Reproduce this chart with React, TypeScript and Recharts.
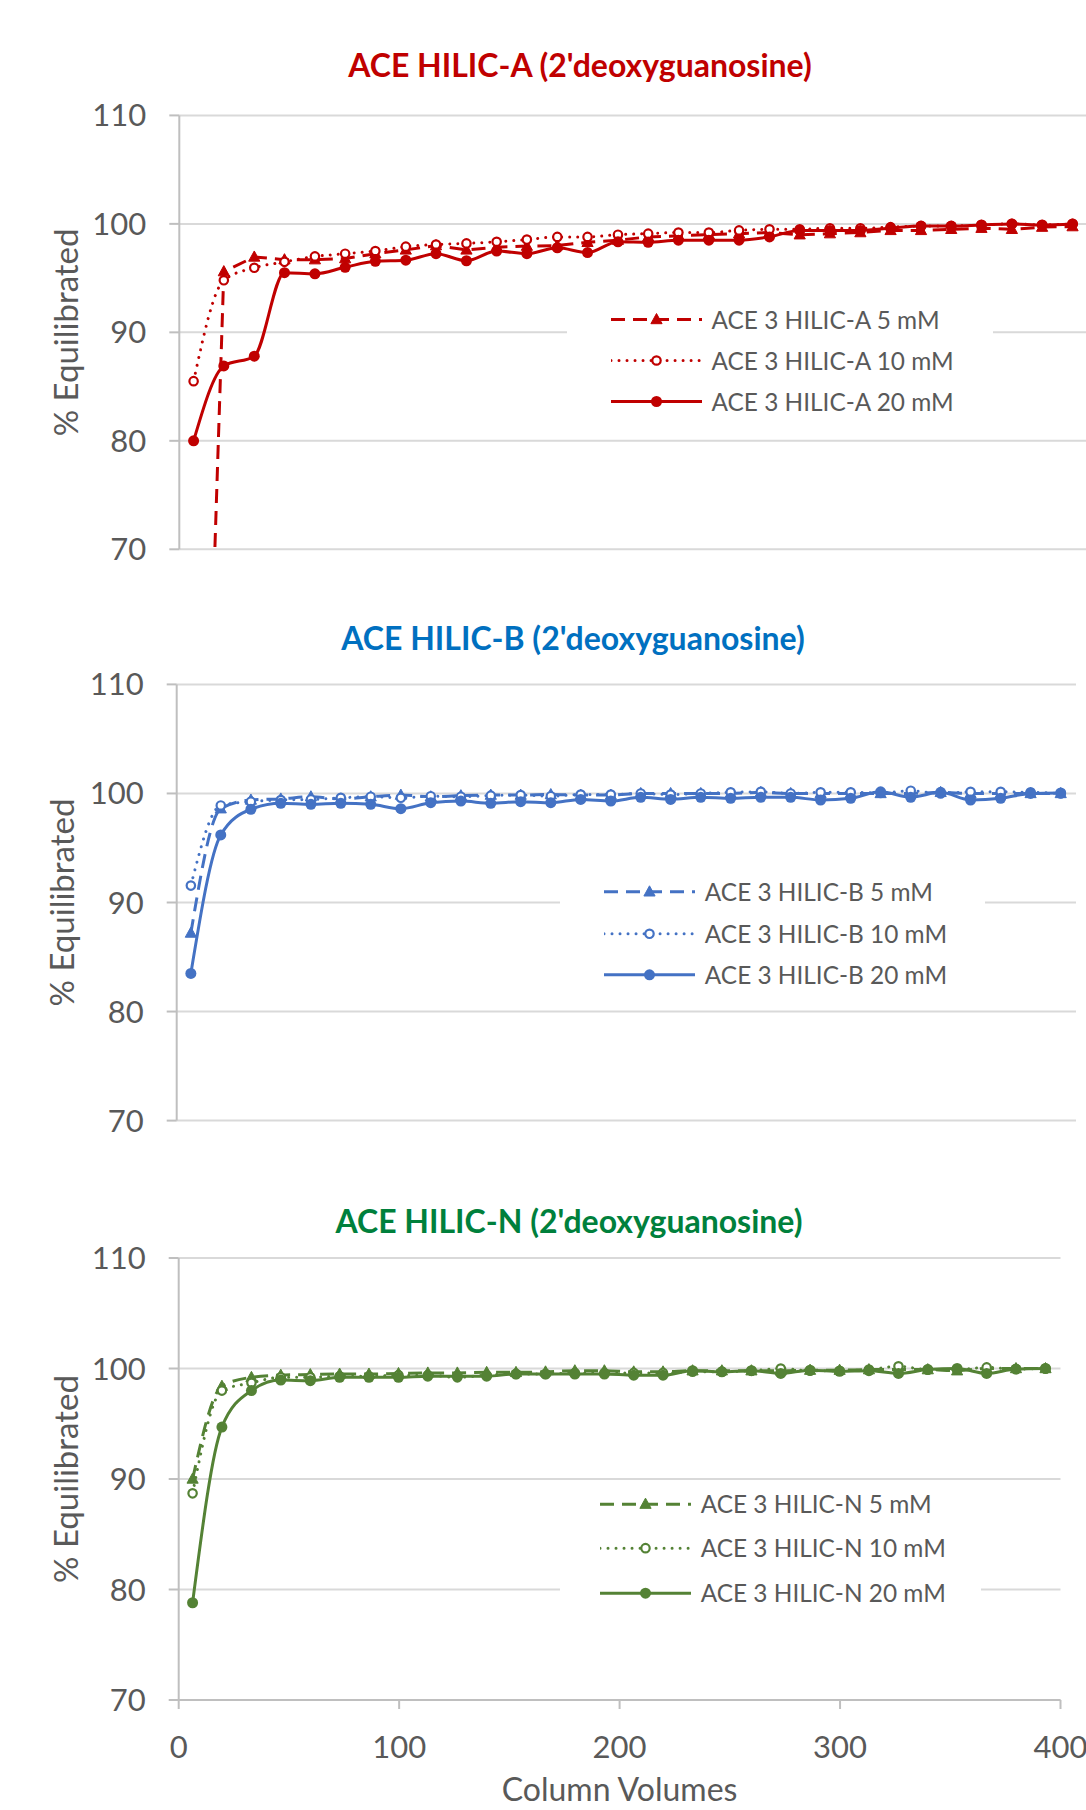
import React from 'react';
import { LineChart, Line, XAxis, YAxis, CartesianGrid } from 'recharts';

// ---------- data ----------
const columnVolumes = [6.3, 19.6, 33.0, 46.3, 59.7, 73.0, 86.3, 99.7, 113.0, 126.4, 139.7, 153.0, 166.4, 179.7, 193.1, 206.4, 219.7, 233.1, 246.4, 259.8, 273.1, 286.4, 299.8, 313.1, 326.5, 339.8, 353.1, 366.5, 379.8, 393.2];

const yTicks = [70, 80, 90, 100, 110];
const xTicks = [0, 100, 200, 300, 400];

const titleA = "ACE HILIC-A (2'deoxyguanosine)";
const titleB = "ACE HILIC-B (2'deoxyguanosine)";
const titleN = "ACE HILIC-N (2'deoxyguanosine)";
const yAxisTitle = '% Equilibrated';
const xAxisTitle = 'Column Volumes';

const namesA = ['ACE 3 HILIC-A 5 mM', 'ACE 3 HILIC-A 10 mM', 'ACE 3 HILIC-A 20 mM'];
const namesB = ['ACE 3 HILIC-B 5 mM', 'ACE 3 HILIC-B 10 mM', 'ACE 3 HILIC-B 20 mM'];
const namesN = ['ACE 3 HILIC-N 5 mM', 'ACE 3 HILIC-N 10 mM', 'ACE 3 HILIC-N 20 mM'];

const hilicA5 = [9.4, 95.6, 96.95, 96.7, 96.7, 96.8, 97.25, 97.6, 98.0, 97.6, 97.85, 97.95, 98.0, 98.3, 98.5, 98.8, 98.9, 99.0, 99.1, 99.2, 99.0, 99.1, 99.2, 99.4, 99.4, 99.5, 99.6, 99.5, 99.7, 99.75];
const hilicA10 = [85.5, 94.8, 95.95, 96.5, 97.0, 97.25, 97.5, 97.9, 98.1, 98.2, 98.35, 98.55, 98.8, 98.8, 99.0, 99.1, 99.2, 99.2, 99.4, 99.5, 99.5, 99.6, 99.6, 99.7, 99.8, 99.8, 99.9, 100.0, 99.9, 100.0];
const hilicA20 = [80.0, 86.9, 87.8, 95.5, 95.4, 96.0, 96.55, 96.65, 97.25, 96.6, 97.5, 97.25, 97.8, 97.35, 98.35, 98.3, 98.5, 98.5, 98.5, 98.8, 99.4, 99.4, 99.4, 99.6, 99.8, 99.8, 99.9, 100.0, 99.9, 100.0];

const hilicB5 = [87.2, 98.6, 99.4, 99.5, 99.7, 99.5, 99.7, 99.85, 99.7, 99.8, 99.85, 99.85, 99.9, 99.85, 99.85, 100.0, 100.0, 100.0, 100.0, 100.1, 100.0, 100.0, 100.0, 100.0, 100.0, 100.1, 100.0, 100.0, 100.0, 100.0];
const hilicB10 = [91.55, 98.9, 99.25, 99.4, 99.45, 99.6, 99.7, 99.6, 99.75, 99.7, 99.8, 99.85, 99.75, 99.9, 99.9, 100.0, 99.9, 100.0, 100.1, 100.15, 100.0, 100.1, 100.1, 100.05, 100.25, 100.0, 100.15, 100.15, 100.1, 100.0];
const hilicB20 = [83.5, 96.2, 98.55, 99.1, 99.0, 99.1, 99.0, 98.6, 99.15, 99.3, 99.1, 99.25, 99.15, 99.45, 99.3, 99.65, 99.45, 99.65, 99.55, 99.65, 99.65, 99.4, 99.55, 100.15, 99.65, 100.1, 99.4, 99.55, 100.0, 100.05];

const hilicN5 = [90.0, 98.4, 99.2, 99.4, 99.45, 99.5, 99.5, 99.55, 99.6, 99.6, 99.65, 99.65, 99.7, 99.8, 99.8, 99.7, 99.7, 99.8, 99.8, 99.8, 99.8, 99.85, 99.85, 99.9, 99.9, 99.9, 99.8, 100.0, 100.0, 100.0];
const hilicN10 = [88.7, 98.0, 98.7, 99.2, 99.2, 99.3, 99.3, 99.4, 99.4, 99.2, 99.4, 99.5, 99.5, 99.6, 99.6, 99.6, 99.6, 99.7, 99.7, 99.8, 100.0, 99.8, 99.8, 99.9, 100.2, 99.9, 99.9, 100.1, 99.95, 100.0];
const hilicN20 = [78.8, 94.7, 98.0, 98.95, 98.9, 99.2, 99.2, 99.2, 99.3, 99.3, 99.3, 99.5, 99.5, 99.5, 99.5, 99.4, 99.4, 99.8, 99.7, 99.8, 99.55, 99.85, 99.75, 99.8, 99.55, 99.9, 100.0, 99.55, 99.95, 100.0];

// ---------- styling ----------
const FONT = 'Lato, Carlito, Calibri, "Open Sans", sans-serif';
const TEXT = '#595959';
const GRID = '#D9D9D9';
const AXIS = '#BFBFBF';
const SW = 3;
const DASH = ['14 8', '0.01 8', undefined];
const CAPS: ('butt' | 'round')[] = ['butt', 'round', 'butt'];

function marker(kind: number, color: string, cx: number, cy: number, key: string) {
  if (kind === 0) {
    return <path key={key} d={`M${cx},${cy - 6} L${cx + 5.6},${cy + 4.2} L${cx - 5.6},${cy + 4.2} Z`} fill={color} stroke={color} strokeWidth={1} />;
  }
  if (kind === 1) {
    return <circle key={key} cx={cx} cy={cy} r={4.2} fill="#ffffff" stroke={color} strokeWidth={2.2} />;
  }
  return <circle key={key} cx={cx} cy={cy} r={5.5} fill={color} />;
}

type Spec = {
  color: string;
  names: string[];
  values: number[][];
  types: ('linear' | 'monotone')[];
  top: number;
  width: number;
  height: number;
  margin: { top: number; right: number; bottom: number; left: number };
  yAxisWidth: number;
  showX: boolean;
  legend: { left: number; top: number; width: number; rowH: number; sL: number; sR: number; tL: number };
};

function Panel({ spec }: { spec: Spec }) {
  const rows = columnVolumes.map((x, i) => {
    const r: any = { x };
    spec.values.forEach((v, k) => {
      r['s' + k] = v[i];
    });
    return r;
  });
  return (
    <div style={{ position: 'absolute', left: 0, top: spec.top, width: spec.width, height: spec.height }}>
      <LineChart width={spec.width} height={spec.height} data={rows} margin={spec.margin}>
        <CartesianGrid vertical={false} stroke={GRID} strokeWidth={2} />
        <XAxis
          dataKey="x"
          type="number"
          domain={[0, 400]}
          ticks={xTicks}
          interval={0}
          hide={!spec.showX}
          allowDataOverflow
          height={110}
          tickSize={9}
          tickMargin={27}
          axisLine={{ stroke: AXIS, strokeWidth: 2 }}
          tickLine={{ stroke: AXIS, strokeWidth: 2 }}
          tick={{ fill: TEXT, fontSize: 31, fontFamily: FONT }}
        />
        <YAxis
          type="number"
          domain={[70, 110]}
          ticks={yTicks}
          interval={0}
          allowDataOverflow
          width={spec.yAxisWidth}
          tickSize={10}
          tickMargin={23}
          axisLine={{ stroke: AXIS, strokeWidth: 2 }}
          tickLine={{ stroke: AXIS, strokeWidth: 2 }}
          tick={{ fill: TEXT, fontSize: 31, fontFamily: FONT }}
        />
        {spec.values.map((_, k) => (
          <Line
            key={k}
            dataKey={'s' + k}
            name={spec.names[k]}
            type={spec.types[k]}
            stroke={spec.color}
            strokeWidth={SW}
            strokeDasharray={DASH[k]}
            strokeLinecap={CAPS[k]}
            isAnimationActive={false}
            activeDot={false}
            dot={(p: any) =>
              p.cx == null || p.cy == null || isNaN(p.cx) || isNaN(p.cy)
                ? <g key={'e' + k + '-' + p.index} />
                : marker(k, spec.color, p.cx, p.cy, 'm' + k + '-' + p.index)
            }
          />
        ))}
      </LineChart>
    </div>
  );
}

function LegendBox({ spec }: { spec: Spec }) {
  const L = spec.legend;
  const w = L.sR - L.sL;
  return (
    <div style={{ position: 'absolute', left: L.left, top: L.top, width: L.width, height: L.rowH * 3, background: '#ffffff' }}>
      {spec.names.map((n, k) => (
        <div key={n} style={{ position: 'absolute', left: 0, top: k * L.rowH, width: L.width, height: L.rowH }}>
          <svg style={{ position: 'absolute', left: L.sL, top: 0 }} width={w} height={L.rowH}>
            <line x1={0} x2={w} y1={L.rowH / 2} y2={L.rowH / 2} stroke={spec.color} strokeWidth={SW} strokeDasharray={DASH[k]} strokeLinecap={CAPS[k]} />
            {marker(k, spec.color, w / 2, L.rowH / 2, 'lm' + k)}
          </svg>
          <span style={{ position: 'absolute', left: L.tL, top: 0, lineHeight: L.rowH + 'px', fontSize: 24.4, fontFamily: FONT, color: TEXT, whiteSpace: 'nowrap' }}>{n}</span>
        </div>
      ))}
    </div>
  );
}

const specA: Spec = {
  color: '#C00000',
  names: namesA,
  values: [hilicA5, hilicA10, hilicA20],
  types: ['linear', 'monotone', 'monotone'],
  top: 0,
  width: 1100,
  height: 600,
  margin: { top: 115.4, right: 12, bottom: 50.7, left: 0 },
  yAxisWidth: 179.3,
  showX: false,
  legend: { left: 566.5, top: 299.2, width: 426.5, rowH: 41, sL: 44.5, sR: 135.5, tL: 145 },
};

const specB: Spec = {
  color: '#4472C4',
  names: namesB,
  values: [hilicB5, hilicB10, hilicB20],
  types: ['monotone', 'monotone', 'monotone'],
  top: 640,
  width: 1086,
  height: 500,
  margin: { top: 44.4, right: 10, bottom: 19.4, left: 0 },
  yAxisWidth: 176.7,
  showX: false,
  legend: { left: 560, top: 871.2, width: 425, rowH: 41.6, sL: 44, sR: 135, tL: 144.8 },
};

const specN: Spec = {
  color: '#548235',
  names: namesN,
  values: [hilicN5, hilicN10, hilicN20],
  types: ['monotone', 'monotone', 'monotone'],
  top: 1200,
  width: 1086,
  height: 610,
  margin: { top: 58, right: 25.5, bottom: 0, left: 0 },
  yAxisWidth: 178.7,
  showX: true,
  legend: { left: 560, top: 1482, width: 421, rowH: 44.3, sL: 40, sR: 131, tL: 140.7 },
};

export default function App() {
  return (
    <div style={{ position: 'absolute', left: 0, top: 0, width: 1086, height: 1810, overflow: 'hidden', background: '#ffffff', fontFamily: FONT }}>
      <Panel spec={specA} />
      <Panel spec={specB} />
      <Panel spec={specN} />
      <LegendBox spec={specA} />
      <LegendBox spec={specB} />
      <LegendBox spec={specN} />
      <svg style={{ position: 'absolute', left: 0, top: 0, pointerEvents: 'none' }} width={1086} height={1810}>
        <text x={580} y={76.7} textAnchor="middle" fontFamily={FONT} fontWeight={700} fontSize={32} fill="#C00000">{titleA}</text>
        <text x={573} y={650} textAnchor="middle" fontFamily={FONT} fontWeight={700} fontSize={32} fill="#0070C0">{titleB}</text>
        <text x={569} y={1232.7} textAnchor="middle" fontFamily={FONT} fontWeight={700} fontSize={32} fill="#00803C">{titleN}</text>
        <text x={65.5} y={332.4} transform="rotate(-90 65.5 332.4)" textAnchor="middle" dominantBaseline="central" fontFamily={FONT} fontSize={33} fill={TEXT}>{yAxisTitle}</text>
        <text x={61} y={902.5} transform="rotate(-90 61 902.5)" textAnchor="middle" dominantBaseline="central" fontFamily={FONT} fontSize={33} fill={TEXT}>{yAxisTitle}</text>
        <text x={64.5} y={1479} transform="rotate(-90 64.5 1479)" textAnchor="middle" dominantBaseline="central" fontFamily={FONT} fontSize={33} fill={TEXT}>{yAxisTitle}</text>
        <text x={619.6} y={1801} textAnchor="middle" fontFamily={FONT} fontSize={32} fill={TEXT}>{xAxisTitle}</text>
      </svg>
    </div>
  );
}
